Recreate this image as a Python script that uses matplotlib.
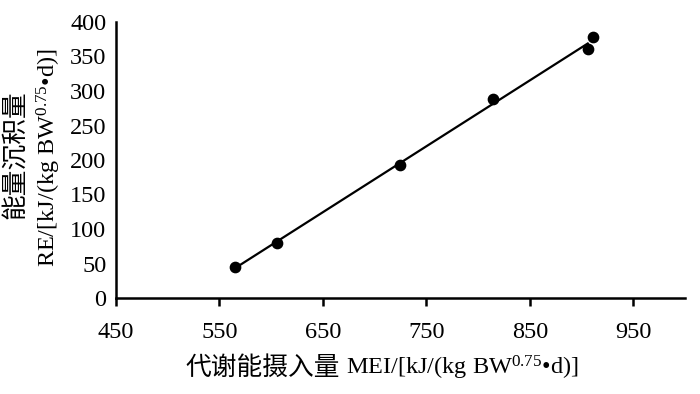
import numpy as np
import matplotlib
matplotlib.use("Agg")
import matplotlib.pyplot as plt

# Data
mei = [565, 606, 725, 814, 906, 911]
re = [45, 80, 193, 288, 361, 378]
x_ticks = [450, 550, 650, 750, 850, 950]
y_ticks = [0, 50, 100, 150, 200, 250, 300, 350, 400]

plt.rcParams['mathtext.fontset'] = 'custom'
plt.rcParams['mathtext.rm'] = 'Liberation Serif'
plt.rcParams['mathtext.it'] = 'Liberation Serif:italic'
plt.rcParams['mathtext.bf'] = 'Liberation Serif:bold'

SERIF = ['Liberation Serif', 'Noto Sans CJK SC']
CJK = ['Noto Sans CJK SC', 'Liberation Serif']

fig = plt.figure(figsize=(7, 3.94), dpi=100)
ax = fig.add_axes([116/700, 1-298/394, (685-116)/700, (298-22)/394])

ax.scatter(mei, re, s=55, color='black', zorder=3)
coef = np.polyfit(mei, re, 1)
lx = np.array([mei[0], mei[4]])
ax.plot(lx, np.polyval(coef, lx), color='black', lw=1.6, zorder=2)

ax.set_xlim(450, 1000)
ax.set_ylim(0, 400)
ax.set_xticks(x_ticks)
ax.set_yticks(y_ticks)
for s in ['top', 'right']:
    ax.spines[s].set_visible(False)
for s in ['left', 'bottom']:
    ax.spines[s].set_linewidth(1.8)
ax.tick_params(axis='x', direction='out', length=6, width=1.8, pad=11)
ax.tick_params(axis='y', length=0, pad=7)
for lab in ax.get_xticklabels() + ax.get_yticklabels():
    lab.set_fontfamily(SERIF)
    lab.set_fontsize(17.5)

# x label
t1 = fig.text(185/700, 1-368/394, '代谢能摄入量', family=CJK, fontsize=18.5,
              ha='left', va='center')
ax.annotate(r' MEI/[kJ/(kg BW$^{0.75}$•d)]', xy=(1, 0.5), xycoords=t1,
            ha='left', va='center', fontsize=17.5, family=SERIF,
            annotation_clip=False)

# y label
fig.text(16/700, 1-155/394, '能量沉积量', family=CJK, fontsize=18.5,
         rotation=90, ha='center', va='center')
fig.text(49/700, 1-158/394, r'RE/[kJ/(kg BW$^{0.75}$•d)]', family=SERIF,
         fontsize=17.5, rotation=90, ha='center', va='center')

fig.savefig('out.png', dpi=100)
